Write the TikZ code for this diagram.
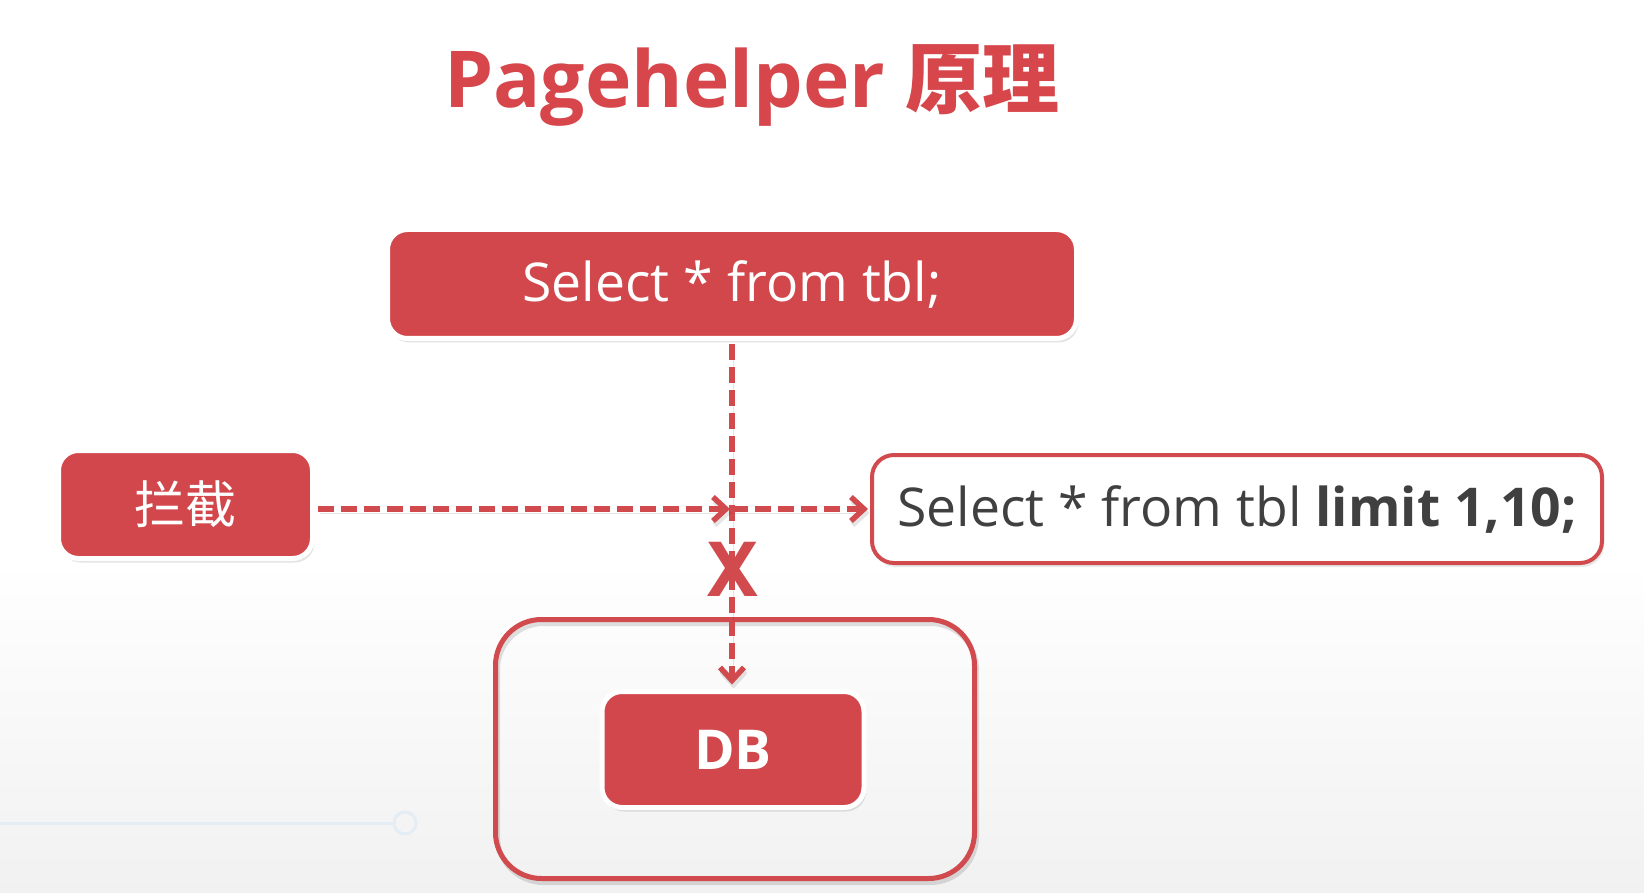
\documentclass[tikz,border=0pt]{standalone}
\usepackage{fontspec}
\setmainfont{Open Sans}
\newfontfamily\cjk{Noto Sans CJK SC}
\usetikzlibrary{arrows.meta,shadows}
\definecolor{boxred}{HTML}{D2474B}
\definecolor{titlered}{HTML}{D6464B}
\definecolor{linered}{HTML}{D14A4E}
\definecolor{darktext}{HTML}{404040}
\definecolor{barblue}{HTML}{E4ECF5}
\definecolor{bottomgray}{HTML}{F1F1F1}
\tikzset{
  redbox/.style={draw=white, line width=5pt, fill=boxred, rounded corners=20pt,
    text=white, inner sep=0pt,
    drop shadow={opacity=0.22, shadow xshift=2pt, shadow yshift=-4pt}},
  whitebox/.style={draw=linered, line width=4pt, fill=white, rounded corners=22pt,
    text=darktext, inner sep=0pt,
    drop shadow={opacity=0.18, shadow xshift=2pt, shadow yshift=-4pt}},
  outerbox/.style={draw=linered, line width=5pt, rounded corners=46pt, inner sep=0pt},
  dasharrow/.style={draw=linered, line width=6.5pt, dash pattern=on 16pt off 7pt,
    -{Straight Barb[length=13pt,width=24pt,line width=5.5pt]},
    preaction={draw=black, draw opacity=0.10, transform canvas={shift={(1.5pt,-4pt)}}}},
  bigtext/.style={font=\fontsize{53.5}{60}\selectfont},
}
\begin{document}
\begin{tikzpicture}[x=1pt,y=-1pt]
\useasboundingbox (0,0) rectangle (1644,893);
\fill[white] (0,0) rectangle (1644,893);
\shade[top color=white, bottom color=bottomgray] (0,560) rectangle (1644,893);
% faint progress bar
\draw[barblue, line width=3pt] (0,823) -- (394,823);
\draw[barblue, line width=3pt] (405,823) circle[radius=11pt];

% title
\node[anchor=base, text=titlered, inner sep=0pt] (title) at (752,108)
  {{\fontsize{78.5}{90}\selectfont\bfseries Pagehelper\ }{\cjk\bfseries\fontsize{77}{90}\selectfont 原理}};

% outer container
\draw[black, opacity=0.12, line width=5pt, rounded corners=46pt] (497.5,623.5) rectangle (976.5,882.5);
\node[outerbox, minimum width=479pt, minimum height=259pt] (outer) at (735,749) {};

% boxes
\node[redbox, bigtext, minimum width=689pt, minimum height=109pt] (sel) at (732,284) {Select * from tbl;};
\node[redbox, minimum width=254pt, minimum height=108pt, font=\cjk\fontsize{51}{56}\selectfont] (int) at (185.5,504.5) {拦截};
\node[whitebox, bigtext, minimum width=730pt, minimum height=108pt] (res) at (1237,509)
  {Select * from tbl \textbf{limit 1,10;}};
\node[redbox, minimum width=262pt, minimum height=116pt, font=\fontsize{55}{60}\selectfont\bfseries] (db) at (733,749.5) {DB};

% connectors
\coordinate (cross) at (sel.south |- res.west);
\draw[dasharrow, shorten <=3pt, shorten >=4.5pt] (sel.south) -- (sel.south |- db.north);
\draw[dasharrow, shorten <=3pt, shorten >=2pt] (int.east |- cross) -- (cross);
\draw[dasharrow, shorten >=2pt] (cross) -- (res.west);

% blocked mark
\node[text=linered, inner sep=0pt, font=\fontsize{76}{80}\selectfont\bfseries] (cut) at (733,569) {X};
\end{tikzpicture}
\end{document}
